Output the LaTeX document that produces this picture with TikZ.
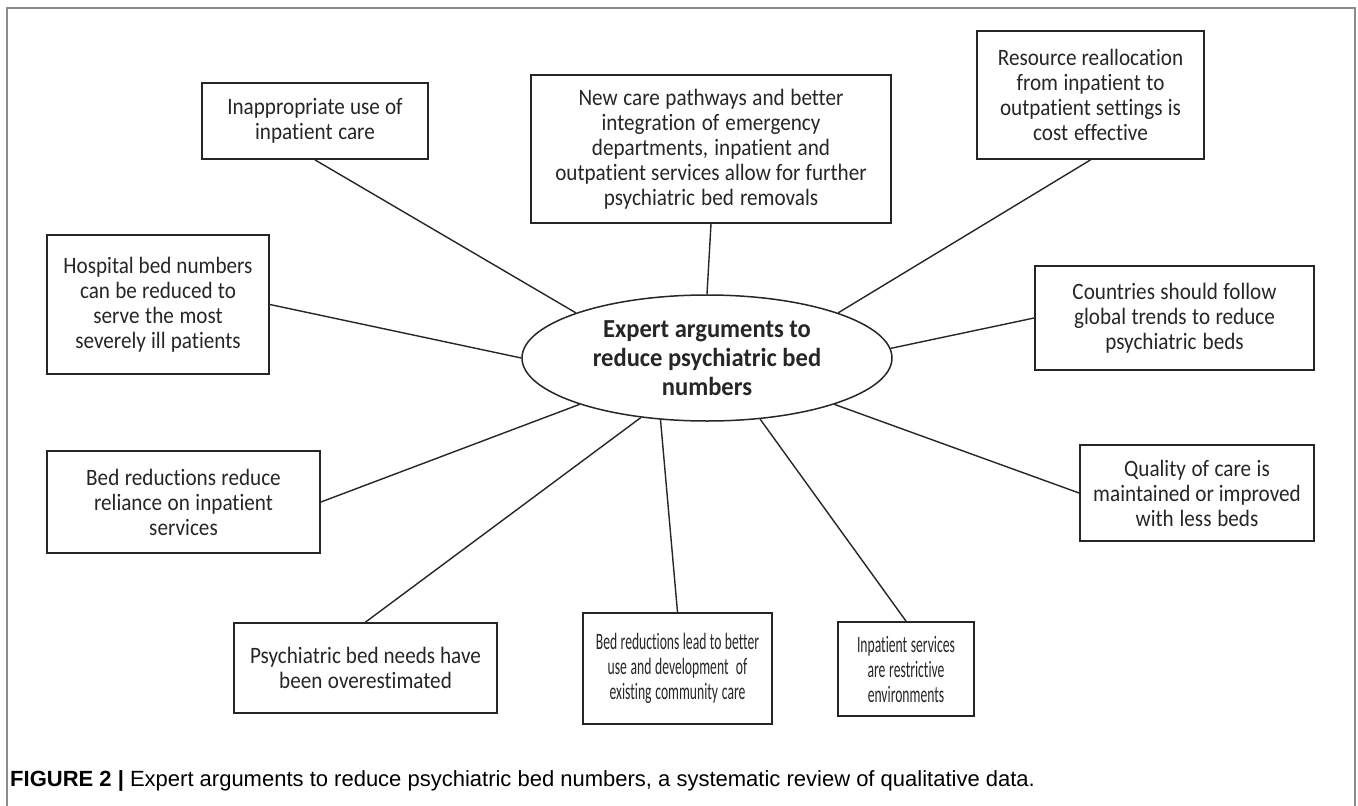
\documentclass[tikz,border=0pt]{standalone}
\usepackage{fontspec}
\setmainfont{Carlito}[Ligatures=NoCommon]
\newfontfamily\boxfont{Carlito}[FakeStretch=0.9, Ligatures=NoCommon]
\newfontfamily\ellfont{Carlito}[FakeStretch=0.945, Ligatures=NoCommon]
\newfontfamily\capfont{Liberation Sans}
\newfontfamily\narrowfont{Carlito}[FakeStretch=0.58, Ligatures=NoCommon]
\newcommand\widespc{\spaceskip=4.7pt plus 1pt minus 1pt\relax}
\newcommand\narrowspc{\spaceskip=3.2pt plus 1pt minus 0.5pt\relax}
\usetikzlibrary{shapes.geometric}
\begin{document}
\begin{tikzpicture}[x=1pt,y=-1pt,
  argbox/.style={draw=black!85, line width=1.8pt, inner sep=0pt, align=center,
    font=\boxfont\fontsize{23.5}{25}\selectfont, text=black!85,
    execute at begin node=\widespc},
  narrowbox/.style={argbox, font=\narrowfont\fontsize{23.5}{25}\selectfont,
    execute at begin node=\narrowspc},
  conn/.style={draw=black!85, line width=1.4pt},
  frame/.style={draw=black!45, line width=1.2pt}]
\useasboundingbox (0,0) rectangle (1358,806);
\fill[white] (0,0) rectangle (1358,806);
\draw[frame] (7,806) -- (7,8) -- (1355,8) -- (1355,806);

\node[ellipse, draw=black!85, line width=1.5pt, minimum width=370pt, minimum height=126pt,
  inner sep=0pt, align=center, text=black!85,
  font=\ellfont\bfseries\fontsize{26}{29}\selectfont] (ell) at (707,358)
  {Expert arguments to\\reduce psychiatric bed\\numbers};

\node[argbox, minimum width=226pt, minimum height=76pt, text width=216pt] (A) at (315,121)
  {Inappropriate use of\\inpatient care};
\node[argbox, minimum width=360pt, minimum height=148pt, text width=350pt] (B) at (711,149)
  {New care pathways and better\\integration of emergency\\departments, inpatient and\\outpatient services allow for further\\psychiatric bed removals};
\node[argbox, minimum width=227pt, minimum height=128pt, text width=217pt] (C) at (1090.5,95)
  {Resource reallocation\\from inpatient to\\outpatient settings is\\cost effective};
\node[argbox, minimum width=222pt, minimum height=139pt, text width=212pt] (D) at (158,304.5)
  {Hospital bed numbers\\can be reduced to\\serve the most\\severely ill patients};
\node[argbox, minimum width=279pt, minimum height=104pt, text width=269pt] (E) at (1174.5,318)
  {Countries should follow\\global trends to reduce\\psychiatric beds};
\node[argbox, minimum width=273pt, minimum height=102pt, text width=263pt] (F) at (183.5,502)
  {Bed reductions reduce\\reliance on inpatient\\services};
\node[argbox, minimum width=234pt, minimum height=96pt, text width=224pt] (G) at (1197,493)
  {Quality of care is\\maintained or improved\\with less beds};
\node[argbox, minimum width=263pt, minimum height=90pt, text width=253pt] (H) at (365.5,668)
  {Psychiatric bed needs have\\been overestimated};
\node[narrowbox, minimum width=189pt, minimum height=111pt, text width=183pt] (I) at (677.5,668.5)
  {Bed reductions lead to better\\use and development\ \ of\\existing community care};
\node[narrowbox, minimum width=136pt, minimum height=94pt, text width=130pt] (J) at (906,669)
  {Inpatient services\\are restrictive\\environments};

\draw[conn] (A.south) -- (ell.161);
\draw[conn] (B.south) -- (ell.90);
\draw[conn] (C.south) -- (ell.19);
\draw[conn] (D.east) -- (ell.180);
\draw[conn] (E.west) -- (ell.3);
\draw[conn] (F.east) -- (ell.200);
\draw[conn] (G.west) -- (ell.340);
\draw[conn] (H.north) -- (ell.222);
\draw[conn] (I.north) -- (ell.233);
\draw[conn] (J.north) -- (ell.311);

\node[anchor=base west, inner sep=0pt, font=\capfont\fontsize{22}{25}\selectfont] (cap) at (10,786)
  {\textbf{FIGURE 2 |} Expert arguments to reduce psychiatric bed numbers, a systematic review of qualitative data.};
\end{tikzpicture}
\end{document}
